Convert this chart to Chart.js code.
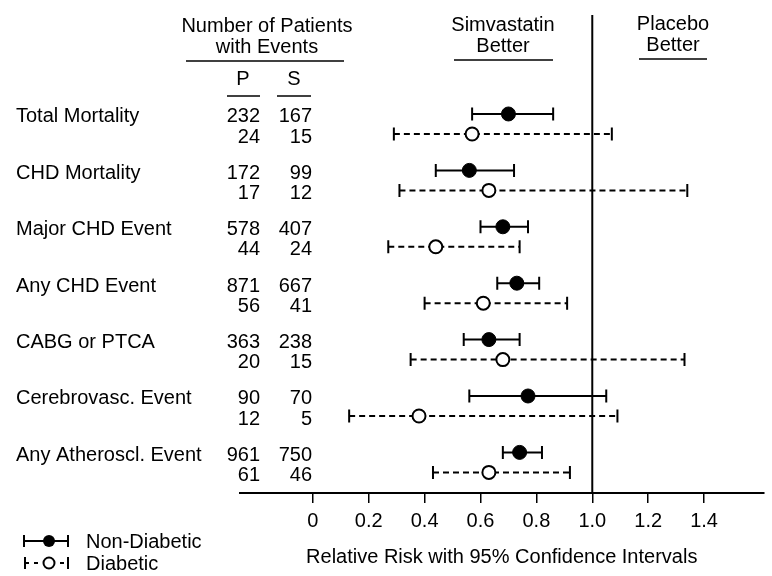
<!DOCTYPE html>
<html lang="en">
<head>
    <meta charset="UTF-8">
    <title>Relative Risk with 95% Confidence Intervals</title>
    <script src="https://cdn.jsdelivr.net/npm/chart.js"></script>
    <style>
        body {
            margin: 0;
            background: #fff;
        }
        .wrap {
            width: 772px;
            height: 576px;
        }
    </style>
</head>
<body>
    <div class="wrap"><canvas id="chart" width="772" height="576"></canvas></div>

    <script>
        const categories = ['Total Mortality', 'CHD Mortality', 'Major CHD Event', 'Any CHD Event',
            'CABG or PTCA', 'Cerebrovasc. Event', 'Any Atheroscl. Event'];

        // patients with events: P = placebo, S = simvastatin
        const placeboND = [232, 172, 578, 871, 363, 90, 961];
        const simvaND = [167, 99, 407, 667, 238, 70, 750];
        const placeboD = [24, 17, 44, 56, 20, 12, 61];
        const simvaD = [15, 12, 24, 41, 15, 5, 46];

        // relative risk and 95% CI
        const ndRR = [0.70, 0.56, 0.68, 0.73, 0.63, 0.77, 0.74];
        const ndLo = [0.57, 0.44, 0.60, 0.66, 0.54, 0.56, 0.68];
        const ndHi = [0.86, 0.72, 0.77, 0.81, 0.74, 1.05, 0.82];
        const dRR = [0.57, 0.63, 0.44, 0.61, 0.68, 0.38, 0.63];
        const dLo = [0.29, 0.31, 0.27, 0.40, 0.35, 0.13, 0.43];
        const dHi = [1.07, 1.34, 0.74, 0.91, 1.33, 1.09, 0.92];

        const xTicks = [0, 0.2, 0.4, 0.6, 0.8, 1.0, 1.2, 1.4];

        const FONT = '20px "Liberation Sans", Arial, sans-serif';
        const DIAB_OFF = 0.355; // row offset of diabetic line under the non-diabetic one
        const Y_MIN = -1.755, Y_MAX = 6.72;

        Chart.defaults.font.family = '"Liberation Sans", Arial, sans-serif';
        Chart.defaults.font.size = 20;
        Chart.defaults.color = '#000';

        const datasets = [];

        datasets.push({
            label: 'Non-Diabetic',
            data: ndRR.map((v, i) => ({ x: v, y: i })),
            pointStyle: 'circle',
            pointRadius: 7,
            pointBackgroundColor: '#000',
            pointBorderColor: '#000',
            pointBorderWidth: 1
        });
        datasets.push({
            label: 'Diabetic',
            data: dRR.map((v, i) => ({ x: v, y: i + DIAB_OFF })),
            pointStyle: 'circle',
            pointRadius: 6.5,
            pointBackgroundColor: '#fff',
            pointBorderColor: '#000',
            pointBorderWidth: 2
        });

        categories.forEach((c, i) => {
            datasets.push({
                label: c + ' ND CI',
                data: [{ x: ndLo[i], y: i }, { x: ndHi[i], y: i }],
                showLine: true,
                borderColor: '#000',
                borderWidth: 2,
                pointStyle: 'line',
                pointRotation: 90,
                pointRadius: 6.5,
                pointBorderWidth: 2,
                pointBorderColor: '#000'
            });
            datasets.push({
                label: c + ' D CI',
                data: [{ x: dLo[i], y: i + DIAB_OFF }, { x: dHi[i], y: i + DIAB_OFF }],
                showLine: true,
                borderColor: '#000',
                borderWidth: 2,
                borderDash: [6, 4],
                pointStyle: 'line',
                pointRotation: 90,
                pointRadius: 6.5,
                pointBorderWidth: 2,
                pointBorderColor: '#000'
            });
        });

        // line of no effect at RR = 1
        datasets.push({
            label: 'ref',
            data: [{ x: 1, y: Y_MIN }, { x: 1, y: Y_MAX }],
            showLine: true,
            borderColor: '#000',
            borderWidth: 2,
            pointRadius: 0
        });

        const textPlugin = {
            id: 'textPlugin',
            afterDraw(chart) {
                const ctx = chart.ctx;
                const ys = chart.scales.y;
                ctx.save();
                ctx.fillStyle = '#000';
                ctx.strokeStyle = '#000';
                ctx.font = FONT;
                ctx.textBaseline = 'alphabetic';

                // headers
                ctx.textAlign = 'center';
                ctx.fillText('Number of Patients', 267, 32);
                ctx.fillText('with Events', 267, 53);
                ctx.fillText('P', 243, 85);
                ctx.fillText('S', 294, 85);
                ctx.fillText('Simvastatin', 503, 31);
                ctx.fillText('Better', 503, 52);
                ctx.fillText('Placebo', 673, 30);
                ctx.fillText('Better', 673, 51);

                ctx.lineWidth = 1.5;
                const rule = (x1, x2, y) => {
                    ctx.beginPath(); ctx.moveTo(x1, y); ctx.lineTo(x2, y); ctx.stroke();
                };
                rule(186, 344, 61);
                rule(227, 260, 96);
                rule(277, 311, 96);
                rule(454, 553, 60);
                rule(639, 707, 59);

                // row labels and counts
                categories.forEach((c, i) => {
                    const y1 = ys.getPixelForValue(i) + 8.5;
                    const y2 = ys.getPixelForValue(i + DIAB_OFF) + 8.5;
                    ctx.textAlign = 'left';
                    ctx.fillText(c, 16, y1);
                    ctx.textAlign = 'right';
                    ctx.fillText(String(placeboND[i]), 260, y1);
                    ctx.fillText(String(simvaND[i]), 312, y1);
                    ctx.fillText(String(placeboD[i]), 260, y2);
                    ctx.fillText(String(simvaD[i]), 312, y2);
                });

                // legend
                ctx.lineWidth = 2;
                ctx.beginPath();
                ctx.moveTo(24, 541); ctx.lineTo(68, 541);
                ctx.moveTo(24, 535); ctx.lineTo(24, 547);
                ctx.moveTo(68, 535); ctx.lineTo(68, 547);
                ctx.stroke();
                ctx.beginPath();
                ctx.arc(49, 541, 6, 0, Math.PI * 2);
                ctx.fill();

                ctx.beginPath();
                ctx.moveTo(25, 557); ctx.lineTo(25, 569);
                ctx.moveTo(68, 557); ctx.lineTo(68, 569);
                ctx.moveTo(25, 563); ctx.lineTo(29, 563);
                ctx.moveTo(34, 563); ctx.lineTo(38, 563);
                ctx.moveTo(60, 563); ctx.lineTo(64, 563);
                ctx.stroke();
                ctx.beginPath();
                ctx.arc(49, 563, 5.5, 0, Math.PI * 2);
                ctx.fillStyle = '#fff';
                ctx.fill();
                ctx.stroke();

                ctx.fillStyle = '#000';
                ctx.textAlign = 'left';
                ctx.fillText('Non-Diabetic', 86, 548);
                ctx.fillText('Diabetic', 86, 570);
                ctx.restore();
            }
        };

        new Chart(document.getElementById('chart'), {
            type: 'scatter',
            data: { datasets: datasets },
            options: {
                responsive: false,
                animation: false,
                events: [],
                layout: {
                    padding: { left: 240, top: 15, right: 0, bottom: 0 }
                },
                plugins: {
                    legend: { display: false },
                    tooltip: { enabled: false }
                },
                scales: {
                    x: {
                        type: 'linear',
                        min: -0.2606,
                        max: 1.6127,
                        afterBuildTicks: (s) => { s.ticks = xTicks.map(v => ({ value: v })); },
                        afterFit: (s) => { s.height = 83; },
                        border: { display: true, color: '#000', width: 2 },
                        grid: {
                            drawOnChartArea: false,
                            drawTicks: true,
                            tickLength: 10,
                            color: '#000',
                            lineWidth: 1.5
                        },
                        ticks: {
                            padding: 6,
                            maxRotation: 0,
                            autoSkip: false,
                            callback: (v) => (v === 0 ? '0' : Number(v).toFixed(1))
                        },
                        title: {
                            display: true,
                            text: 'Relative Risk with 95% Confidence Intervals',
                            padding: { top: 0, bottom: 7 }
                        }
                    },
                    y: {
                        type: 'linear',
                        display: false,
                        reverse: true,
                        min: Y_MIN,
                        max: Y_MAX
                    }
                }
            },
            plugins: [textPlugin]
        });
    </script>
</body>
</html>
